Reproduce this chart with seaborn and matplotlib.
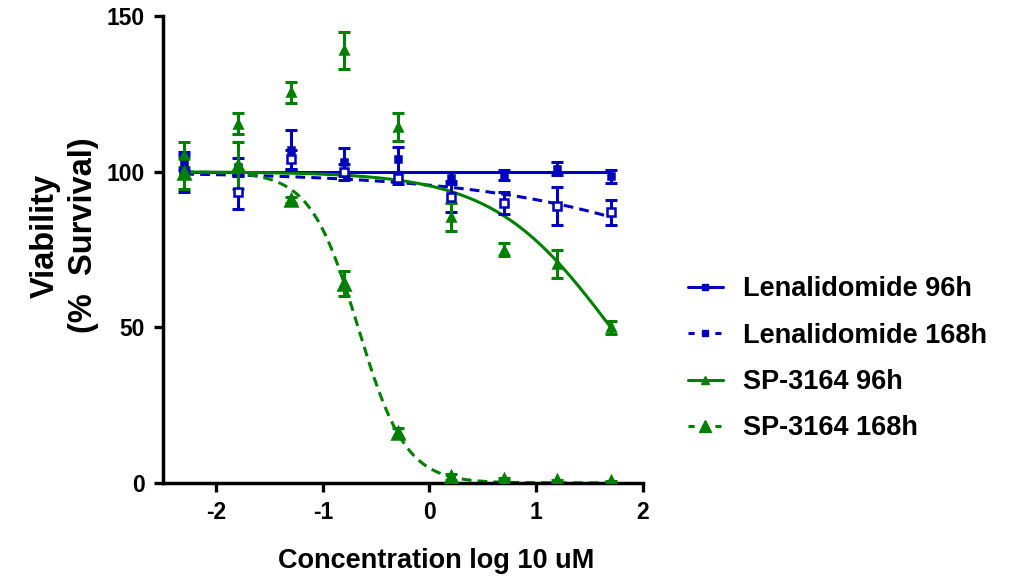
"""Viability dose-response: Lenalidomide vs SP-3164"""
import numpy as np
import pandas as pd
import matplotlib
matplotlib.use("Agg")
import matplotlib.pyplot as plt
import seaborn as sns
from matplotlib.lines import Line2D

# data (log10 uM) ------------------------------------------------------------
log_conc = [-2.3, -1.8, -1.3, -0.8, -0.3, 0.2, 0.7, 1.2, 1.7]

len96_mean = [103, 101.5, 107, 103, 104, 98, 99, 101, 98.5]
len96_sd = [2.5, 3, 6.5, 4.5, 4, 2, 1.5, 2, 2]
len168_mean = [100, 93.5, 104, 100, 98, 92, 90, 89, 87]
len168_sd = [6.5, 5.5, 3, 2.5, 2, 5, 3.5, 6, 4]
sp96_mean = [105.5, 115.5, 125.5, 139, 114.5, 85.5, 75, 70.5, 50]
sp96_sd = [4, 3.5, 3.5, 6, 4.5, 4.5, 2, 4.5, 2]
sp168_mean = [99.5, 102, 91, 64, 16, 2, 1, 0.5, 0.3]
sp168_sd = [5, 7.5, 1, 4, 1.5, 1, 0.5, 0.3, 0.3]

series = ["Lenalidomide 96h", "Lenalidomide 168h", "SP-3164 96h", "SP-3164 168h"]
means = [len96_mean, len168_mean, sp96_mean, sp168_mean]
sds = [len96_sd, len168_sd, sp96_sd, sp168_sd]

# 4-parameter logistic fit results: top, bottom, logIC50, hill
fit_top = [100, 100, 100, 100]
fit_bottom = [100, 0, 0, 0]
fit_logic50 = [0, 3.96, 1.7, -0.67]
fit_hill = [1, 0.34, 0.78, 1.94]

blue = "#0000BE"
green = "#008000"
colors = dict(zip(series, [blue, blue, green, green]))
dashes = dict(zip(series, ["", (3.2, 2), "", (3.2, 2)]))
markers = dict(zip(series, ["s", "s", "^", "^"]))
msizes = dict(zip(series, [4.5, 5.5, 6, 9]))
mfaces = dict(zip(series, [blue, "white", green, green]))

pts = pd.concat(
    [pd.DataFrame({"x": log_conc, "y": m, "sd": s, "series": name})
     for name, m, s in zip(series, means, sds)],
    ignore_index=True,
)

xs = np.linspace(min(log_conc), max(log_conc), 300)
curves = pd.concat(
    [pd.DataFrame({
        "x": xs,
        "y": b + (t - b) / (1 + 10 ** ((xs - c) * h)),
        "series": name,
    }) for name, t, b, c, h in zip(series, fit_top, fit_bottom, fit_logic50, fit_hill)],
    ignore_index=True,
)

# plot ----------------------------------------------------------------------
sns.set_style("ticks")
plt.rcParams["font.family"] = ["Liberation Sans", "DejaVu Sans"]
plt.rcParams["font.weight"] = "bold"
plt.rcParams["axes.unicode_minus"] = False
plt.rcParams["text.color"] = "black"
plt.rcParams["axes.labelcolor"] = "black"
plt.rcParams["xtick.color"] = "black"
plt.rcParams["ytick.color"] = "black"

fig = plt.figure(figsize=(10.09, 5.77), dpi=100)
ax = fig.add_axes([0.1615, 0.163, 0.4755, 0.809])

sns.lineplot(data=curves, x="x", y="y", hue="series", style="series",
             palette=colors, dashes=dashes, linewidth=2.2, legend=False,
             ax=ax, zorder=2)

for name in series:
    d = pts[pts.series == name]
    ax.errorbar(d.x, d.y, yerr=d.sd, fmt="none", ecolor=colors[name],
                elinewidth=2.2, capsize=4, capthick=2.2, zorder=3)
    ax.plot(d.x, d.y, linestyle="none", marker=markers[name],
            markersize=msizes[name], markerfacecolor=mfaces[name],
            markeredgecolor=colors[name], markeredgewidth=1.8, zorder=4)

ax.set_xlim(-2.5, 2)
ax.set_ylim(0, 150)
ax.set_xticks([-2, -1, 0, 1, 2])
ax.set_yticks([0, 50, 100, 150])
ax.set_xlabel("Concentration log 10 uM", fontsize=19.5, fontweight="bold")
ax.set_ylabel("Viability\n(%  Survival)", fontsize=23.5, fontweight="bold",
              linespacing=1.3)
ax.xaxis.set_label_coords(0.57, -0.14)
ax.yaxis.set_label_coords(-0.133, 0.53)
ax.tick_params(axis="both", labelsize=16.5, width=2.4, length=6.5, pad=6.5)
for lbl in ax.get_xticklabels() + ax.get_yticklabels():
    lbl.set_fontweight("bold")
sns.despine(ax=ax)
for sp in ["left", "bottom"]:
    ax.spines[sp].set_linewidth(2.5)
    ax.spines[sp].set_color("black")

handles = [
    Line2D([], [], color=colors[n], linestyle="-" if dashes[n] == "" else (0, (2.0, 2.4)),
           linewidth=2.2, marker=markers[n], markersize=msizes[n] - 0.5,
           markerfacecolor=colors[n], markeredgecolor=colors[n])
    for n in series
]
fig.legend(handles, series, loc="center left", bbox_to_anchor=(0.671, 0.378),
           frameon=False, handlelength=1.3, handletextpad=0.75,
           labelspacing=0.75, borderaxespad=0,
           prop={"weight": "bold", "size": 19.5})

fig.savefig("out.png", dpi=100)
